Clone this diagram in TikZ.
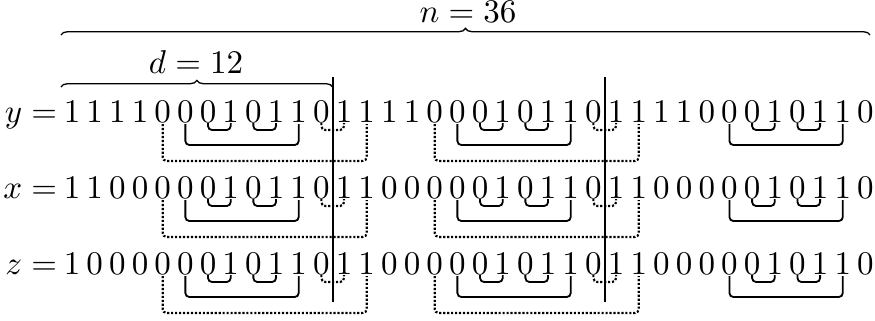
\documentclass[tikz,border=0pt]{standalone}
\usetikzlibrary{decorations.pathreplacing,calc}
\begin{document}
\begin{tikzpicture}[x=0.303pt,y=-0.303pt,
  dig/.style={anchor=base,inner sep=0pt,outer sep=0pt},
  lab/.style={anchor=base east,inner sep=0pt,outer sep=0pt},
  bk/.style={line width=0.55pt,rounded corners=1.2pt},
  dbk/.style={line width=0.65pt,rounded corners=1.2pt,dash pattern=on 0.65pt off 0.55pt},
  sep/.style={line width=0.7pt},
  brc/.style={decorate,decoration={brace,amplitude=2pt},line width=0.4pt}]
\useasboundingbox (0,0) rectangle (875,320);
% rows
\def\ydigits{1,1,1,1,0,0,0,1,0,1,1,0,1,1,1,1,0,0,0,1,0,1,1,0,1,1,1,1,0,0,0,1,0,1,1,0}
\def\xdigits{1,1,0,0,0,0,0,1,0,1,1,0,1,1,0,0,0,0,0,1,0,1,1,0,1,1,0,0,0,0,0,1,0,1,1,0}
\def\zdigits{1,0,0,0,0,0,0,1,0,1,1,0,1,1,0,0,0,0,0,1,0,1,1,0,1,1,0,0,0,0,0,1,0,1,1,0}
\node[lab] (ly) at (57,122) {$y=$};
\node[lab] (lx) at (57,198) {$x=$};
\node[lab] (lz) at (57,274) {$z=$};
\foreach \d [count=\i from 0] in \ydigits {\node[dig] (y\i) at (72+22.67*\i,122) {$\d$};}
\foreach \d [count=\i from 0] in \xdigits {\node[dig] (x\i) at (72+22.67*\i,198) {$\d$};}
\foreach \d [count=\i from 0] in \zdigits {\node[dig] (z\i) at (72+22.67*\i,274) {$\d$};}
% brackets
\foreach \r in {y,x,z}{
  \foreach \p in {0,12,24}{
    \pgfmathtruncatemacro\a{\p+5}\pgfmathtruncatemacro\b{\p+10}
    \pgfmathtruncatemacro\c{\p+6}\pgfmathtruncatemacro\e{\p+7}
    \pgfmathtruncatemacro\f{\p+8}\pgfmathtruncatemacro\g{\p+9}
    \draw[bk] ($(\r\a.south)+(0,2)$) -- ++(0,21) -| ($(\r\b.south)+(0,2)$);
    \draw[bk] ($(\r\c.south)+(0,1)$) -- ++(0,7) -| ($(\r\e.south)+(0,1)$);
    \draw[bk] ($(\r\f.south)+(0,1)$) -- ++(0,7) -| ($(\r\g.south)+(0,1)$);
  }
  \foreach \p in {0,12}{
    \pgfmathtruncatemacro\a{\p+4}\pgfmathtruncatemacro\b{\p+13}
    \pgfmathtruncatemacro\c{\p+11}\pgfmathtruncatemacro\e{\p+12}
    \draw[dbk] ($(\r\a.south)+(0,2)$) -- ++(0,37) -| ($(\r\b.south)+(0,2)$);
    \draw[dbk] ($(\r\c.south)+(0,1)$) -- ++(0,7) -| ($(\r\e.south)+(0,1)$);
  }
}
% separators
\coordinate (s1t) at ($(y11)!0.5!(y12)$);
\coordinate (s2t) at ($(y23)!0.5!(y24)$);
\coordinate (a1) at (s1t |- 0,77);
\coordinate (b1) at (s1t |- 0,302);
\coordinate (a2) at (s2t |- 0,77);
\coordinate (b2) at (s2t |- 0,302);
\draw[sep] (a1) -- (b1);
\draw[sep] (a2) -- (b2);
% braces
\coordinate (nb1) at (61,35);
\coordinate (nb2) at (870,35);
\coordinate (db1) at (61,87);
\coordinate (db2) at (a1 |- 0,87);
\draw[brc] (nb1) -- (nb2);
\draw[brc] (db1) -- (db2);
\node[dig] (nlab) at (468,22) {$n=36$};
\node[dig] (dlab) at (196,73) {$d=12$};
\end{tikzpicture}
\end{document}
